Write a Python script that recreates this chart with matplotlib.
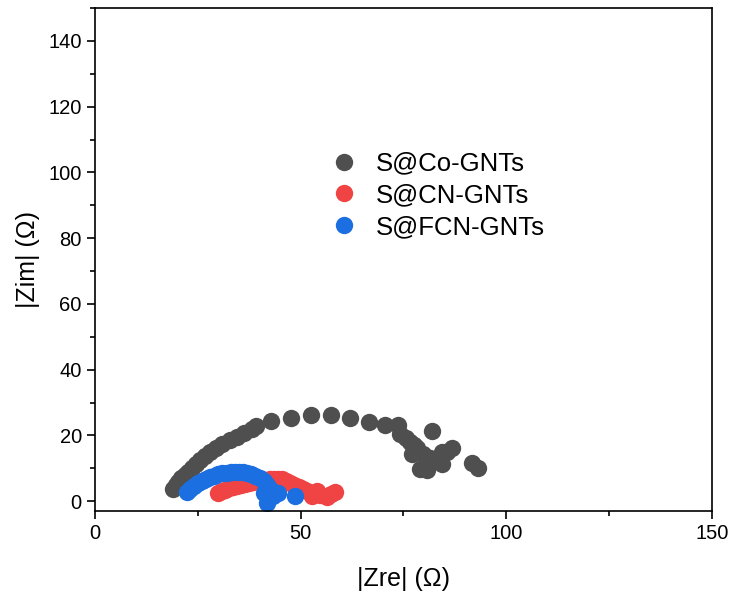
import matplotlib.pyplot as plt
from matplotlib.ticker import MultipleLocator

plt.rcParams['font.family'] = ['Liberation Sans', 'DejaVu Sans']

# Nyquist data, |Zre| and |Zim| in Ohm
co_zre = [19.0, 19.6, 20.3, 21.0, 21.8, 22.6, 23.5, 24.5, 25.6, 26.8,
          28.0, 29.4, 31.0, 32.8, 34.5, 36.3, 38.2, 39.2, 42.7, 47.6,
          52.4, 57.4, 62.0, 66.5, 70.5, 73.7, 74.2, 75.5, 76.6, 77.5,
          78.2, 77.0, 79.8, 79.0, 80.6, 81.4, 81.9, 82.5, 84.3, 84.3,
          85.5, 86.7, 91.6, 93.2]
co_zim = [3.6, 4.8, 5.9, 7.0, 8.0, 9.0, 10.2, 11.4, 12.6, 13.8,
          15.0, 16.2, 17.3, 18.5, 19.4, 20.6, 22.0, 23.0, 24.4, 25.4,
          26.1, 26.1, 25.4, 24.2, 23.1, 23.1, 20.5, 19.2, 18.0, 17.0,
          16.2, 14.3, 14.3, 9.9, 9.5, 13.0, 21.2, 12.5, 11.2, 15.0,
          14.8, 16.3, 11.6, 10.2]

cn_zre = [30.0, 30.8, 31.6, 32.5, 33.5, 34.5, 35.5, 36.5, 37.5, 38.5,
          39.5, 40.5, 41.5, 42.5, 43.5, 44.5, 45.5, 46.5, 47.5, 48.5,
          49.5, 50.5, 51.5, 52.7, 53.9, 54.8, 56.3, 57.3, 58.4]
cn_zim = [2.4, 3.0, 3.5, 3.9, 4.3, 4.6, 4.9, 5.1, 5.4, 5.7,
          6.0, 6.3, 6.5, 6.7, 6.8, 6.8, 6.6, 6.2, 5.6, 5.0,
          4.3, 3.6, 3.0, 1.6, 3.1, 1.8, 1.3, 2.2, 2.8]

fcn_zre = [22.4, 23.2, 24.0, 25.0, 26.0, 27.0, 28.0, 29.0, 30.0, 31.0,
           32.0, 33.0, 34.0, 35.0, 36.0, 37.0, 38.0, 39.0, 40.0, 41.0,
           41.8, 42.5, 41.0, 42.0, 41.7, 43.4, 44.5, 48.6]
fcn_zim = [2.7, 3.7, 4.6, 5.4, 6.1, 6.8, 7.3, 7.8, 8.2, 8.5,
           8.7, 8.8, 8.9, 8.9, 8.8, 8.6, 8.2, 7.7, 7.0, 6.2,
           5.0, 3.6, 2.4, 1.2, -0.6, 1.6, 2.6, 1.6]

labels = ['S@Co-GNTs', 'S@CN-GNTs', 'S@FCN-GNTs']
colors = ['#4f4f4f', '#f04444', '#1c6fe0']

fig = plt.figure(figsize=(7.34, 5.94), dpi=100)
ax = fig.add_axes([0.1294, 0.1397, 0.8406, 0.8468])

for zre, zim, lab, col in zip([co_zre, cn_zre, fcn_zre],
                              [co_zim, cn_zim, fcn_zim], labels, colors):
    ax.plot(zre, zim, 'o', ms=12.5, color=col, mec='none', label=lab)

ax.set_xlim(0, 150)
ax.set_ylim(-3, 150)
ax.xaxis.set_major_locator(MultipleLocator(50))
ax.xaxis.set_minor_locator(MultipleLocator(25))
ax.yaxis.set_major_locator(MultipleLocator(20))
ax.yaxis.set_minor_locator(MultipleLocator(10))
ax.tick_params(which='both', direction='out', top=False, right=False,
               labelsize=14.5, width=1.2)
ax.tick_params(which='major', length=6)
ax.tick_params(which='minor', length=3.5)
for s in ax.spines.values():
    s.set_linewidth(1.2)

ax.set_xlabel('|Zre| (\u03a9)', fontsize=18, labelpad=17)
ax.set_ylabel('|Zim| (\u03a9)', fontsize=18, labelpad=6)

ax.legend(loc='upper left', bbox_to_anchor=(0.36, 0.735), frameon=False,
          fontsize=18.5, handletextpad=0.6, labelspacing=0.3,
          borderaxespad=0, handlelength=1.3)

fig.savefig('out.png', dpi=100)
